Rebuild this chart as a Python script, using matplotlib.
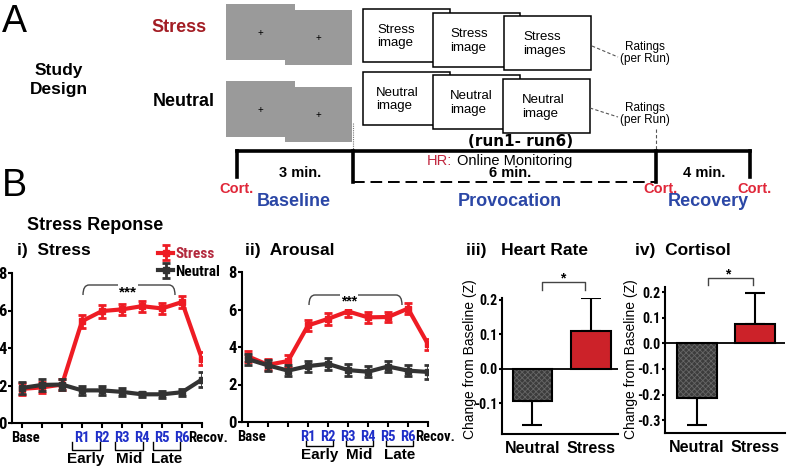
import matplotlib

matplotlib.use("Agg")

import matplotlib.pyplot as plt
import matplotlib.transforms as mtransforms
from matplotlib import font_manager
from matplotlib.lines import Line2D
from matplotlib.patches import PathPatch, Rectangle
from matplotlib.path import Path

W, H = 796, 468

# ---- data ---------------------------------------------------------------
RUN_LABELS = ["Base", "", "", "R1", "R2", "R3", "R4", "R5", "R6", "Recov."]

stress_stress = [1.82, 1.9, 2.05, 5.43, 5.97, 6.06, 6.23, 6.11, 6.45, 3.42]
stress_stress_err = [0.3, 0.3, 0.3, 0.35, 0.35, 0.3, 0.3, 0.3, 0.3, 0.35]
stress_neutral = [1.87, 2.03, 2.05, 1.74, 1.74, 1.66, 1.53, 1.53, 1.64, 2.32]
stress_neutral_err = [0.3, 0.3, 0.3, 0.25, 0.25, 0.2, 0.15, 0.2, 0.2, 0.42]

arousal_stress = [3.5, 3.05, 3.25, 5.15, 5.5, 5.9, 5.58, 5.6, 6.05, 4.15]
arousal_stress_err = [0.3, 0.3, 0.3, 0.3, 0.3, 0.3, 0.3, 0.25, 0.3, 0.3]
arousal_neutral = [3.35, 3.02, 2.74, 2.98, 3.1, 2.77, 2.68, 2.96, 2.74, 2.67]
arousal_neutral_err = [0.3, 0.3, 0.3, 0.3, 0.3, 0.3, 0.3, 0.3, 0.3, 0.35]

BAR_CONDS = ["Neutral", "Stress"]
hr_mean = [-0.095, 0.11]
hr_err = [0.07, 0.095]
cort_mean = [-0.215, 0.074]
cort_err = [0.105, 0.122]

RED = "#ee1c24"
DARK = "#333333"
BAR_RED = "#cc2229"
BLUE = "#2b47a6"
RUN_BLUE = "#1f2fc8"
CORT_RED = "#e0283a"

# a narrow sans for the tick labels, if one is around
_names = {f.name for f in font_manager.fontManager.ttflist}
NARROW = [n for n in ("Liberation Sans Narrow", "Roboto Condensed", "DejaVu Sans Condensed",
                      "Open Sans Condensed") if n in _names] + ["Liberation Sans"]
TICK_FS = 9 if NARROW[0] == "Liberation Sans" else 10.5

plt.rcParams.update(
    {
        "font.family": ["Liberation Sans", "DejaVu Sans"],
        "axes.linewidth": 1.5,
        "xtick.major.width": 1.5,
        "ytick.major.width": 1.5,
        "xtick.major.size": 3.5,
        "ytick.major.size": 3,
        "hatch.linewidth": 0.6,
    }
)

fig = plt.figure(figsize=(W / 100, H / 100), dpi=100)
# pixel coords, origin top-left
PX = mtransforms.Affine2D().scale(1 / W, -1 / H).translate(0, 1) + fig.transFigure


def px_axes(left, top, right, bottom):
    return fig.add_axes([left / W, 1 - bottom / H, (right - left) / W, (bottom - top) / H])


def txt(x, y, s, **kw):
    kw.setdefault("ha", "center")
    kw.setdefault("va", "center")
    return fig.text(x, y, s, transform=PX, **kw)


def line(xs, ys, **kw):
    fig.add_artist(Line2D(xs, ys, transform=PX, **kw))


def rect(x0, y0, x1, y1, **kw):
    fig.add_artist(Rectangle((x0, y0), x1 - x0, y1 - y0, transform=PX, **kw))


def round_bracket(x0, x1, y, d, r=6):
    verts = [(x0, y + d), (x0, y), (x0 + r, y), (x1 - r, y), (x1, y), (x1, y + d)]
    codes = [Path.MOVETO, Path.CURVE3, Path.CURVE3, Path.LINETO, Path.CURVE3, Path.CURVE3]
    fig.add_artist(PathPatch(Path(verts, codes), transform=PX, fill=False,
                             edgecolor="#444444", lw=1.0))


def square_bracket(x0, x1, y, d):
    line([x0, x0, x1, x1], [y + d, y, y, y + d], color="#444444", lw=1.0)


def cup(x0, x1, y0, y1):
    line([x0, x0, x1, x1], [y0, y1, y1, y0], color="black", lw=1.0)


def nudge(label, dx):
    label.set_transform(label.get_transform()
                        + mtransforms.ScaledTranslation(dx / 100, 0, fig.dpi_scale_trans))


# ======================= Panel A =========================================
txt(14, 22, "A", fontsize=27)
txt(59, 80, "Study\nDesign", fontsize=12.5, fontweight="bold", linespacing=1.3)
txt(179, 28, "Stress", fontsize=13, fontweight="bold", color="#a31d24")
txt(184, 102, "Neutral", fontsize=13, fontweight="bold")

GRAY = "#9a9a9a"
for dy in (0, 77):
    rect(226, 4 + dy, 295, 60 + dy, facecolor=GRAY, edgecolor="none")
    rect(285, 10 + dy, 352, 65 + dy, facecolor=GRAY, edgecolor="none")
    txt(260, 33 + dy, "+", fontsize=7)
    txt(318, 38 + dy, "+", fontsize=7)

boxes = [(363, 450, 9, 62, 377), (433, 520, 13, 67, 450), (504, 591, 16, 70, 523)]
for i, (x0, x1, y0, y1, tx) in enumerate(boxes):
    rect(x0, y0, x1, y1, facecolor="white", edgecolor="black", lw=1.1)
    txt(tx, (y0 + y1) / 2 + 1, "Stress\nimage" + ("s" if i == 2 else ""),
        fontsize=9.5, ha="left", linespacing=1.2)
nboxes = [(363, 450, 72, 125, 376), (433, 520, 75, 129, 450), (503, 590, 79, 133, 522)]
for x0, x1, y0, y1, tx in nboxes:
    rect(x0, y0, x1, y1, facecolor="white", edgecolor="black", lw=1.1)
    txt(tx, (y0 + y1) / 2 + 1, "Neutral\nimage", fontsize=9.5, ha="left", linespacing=1.2)

line([592, 618], [46, 57], color="#555555", lw=0.8, ls=(0, (3, 2)))
line([590, 618], [108, 117], color="#555555", lw=0.8, ls=(0, (3, 2)))
txt(645, 53, "Ratings\n(per Run)", fontsize=8.5, linespacing=0.95)
txt(645, 114, "Ratings\n(per Run)", fontsize=8.5, linespacing=0.95)

line([353, 353], [123, 150], color="#777777", lw=0.8, ls=(0, (1, 1)))
line([656, 656], [129, 150], color="#555555", lw=0.8, ls=(0, (3, 2)))
txt(521, 141, "(run1- run6)", fontsize=11, fontweight="bold", family="DejaVu Sans")

# timeline
TL = dict(color="black", lw=2.6, solid_capstyle="projecting")
line([237, 750], [151, 151], **TL)
line([237, 237], [151, 177], **TL)
line([353, 353], [151, 182], **TL)
line([656, 656], [151, 182], **TL)
line([750, 750], [151, 177], **TL)
line([353, 656], [182, 182], color="black", lw=1.4, ls=(0, (6, 3)))

txt(300, 173, "3 min.", fontsize=10.5, fontweight="bold")
txt(510, 173, "6 min.", fontsize=10.5, fontweight="bold")
txt(704, 173, "4 min.", fontsize=10.5, fontweight="bold")
txt(427, 161, "HR:", fontsize=10.5, ha="left", color="#c1273f")
txt(457, 161, "Online Monitoring", fontsize=10.5, ha="left")
for cx in (236, 660, 754):
    txt(cx, 189, "Cort.", fontsize=10.5, fontweight="bold", color=CORT_RED)
txt(294, 202, "Baseline", fontsize=13, fontweight="bold", color=BLUE)
txt(510, 202, "Provocation", fontsize=13, fontweight="bold", color=BLUE)
txt(708, 202, "Recovery", fontsize=13, fontweight="bold", color=BLUE)

# ======================= Panel B =========================================
txt(14, 186, "B", fontsize=27)
txt(95, 225, "Stress Reponse", fontsize=13, fontweight="bold")


def run_panel(ax, s, s_err, n, n_err, left, recov_dx):
    x = list(range(len(s)))
    hs = ax.errorbar(x, s, yerr=s_err, color=RED, lw=3, marker="s", ms=4.5,
                     elinewidth=2, capsize=3, capthick=2, zorder=3, label="Stress")
    hn = ax.errorbar(x, n, yerr=n_err, color=DARK, lw=3, marker="s", ms=4.5,
                     elinewidth=2, capsize=3, capthick=2, zorder=4, label="Neutral")
    ax.set_ylim(0, 8)
    ax.set_yticks([0, 2, 4, 6, 8])
    ax.set_xlim(left, 9)
    ax.set_xticks(x)
    ax.tick_params(axis="x", pad=2)
    ax.tick_params(axis="y", pad=1)
    ax.set_xticklabels(RUN_LABELS, family=NARROW, fontweight="bold", fontsize=TICK_FS)
    for lab in ax.get_xticklabels():
        if lab.get_text().startswith("R") and lab.get_text() != "Recov.":
            lab.set_color(RUN_BLUE)
    labs = ax.get_xticklabels()
    nudge(labs[0], 3)
    nudge(labs[-1], recov_dx)
    for lab in ax.get_yticklabels():
        lab.set_family(NARROW)
        lab.set_fontweight("bold")
        lab.set_fontsize(TICK_FS + 1.5)
    ax.spines["top"].set_visible(False)
    ax.spines["right"].set_visible(False)
    ax.patch.set_alpha(0)
    return hs, hn


ax1 = px_axes(12, 273, 202, 423)
hs, hn = run_panel(ax1, stress_stress, stress_stress_err, stress_neutral,
                   stress_neutral_err, -0.5, 6)
ax2 = px_axes(242, 272, 428, 422)
run_panel(ax2, arousal_stress, arousal_stress_err, arousal_neutral,
          arousal_neutral_err, -0.3, 7)

leg = fig.legend([hs, hn], ["Stress", "Neutral"], loc="upper left",
                 bbox_to_anchor=(158, 247), bbox_transform=PX, frameon=False,
                 handlelength=1.0, handletextpad=0.15, labelspacing=0.25,
                 borderpad=0, borderaxespad=0,
                 prop={"family": NARROW, "weight": "bold", "size": TICK_FS + 0.5})
leg.get_texts()[0].set_color("#b3283c")

txt(17, 250, "i)  Stress", fontsize=12.5, fontweight="bold", ha="left")
txt(245, 251, "ii)  Arousal", fontsize=12.5, fontweight="bold", ha="left")
txt(466, 251, "iii)   Heart Rate", fontsize=12.5, fontweight="bold", ha="left")
txt(635, 250, "iv)  Cortisol", fontsize=12.5, fontweight="bold", ha="left")

# significance brackets on the line panels
round_bracket(83, 175, 285, 10)
txt(128, 292, "***", fontsize=11, fontweight="bold",
    bbox=dict(facecolor="white", edgecolor="none", pad=1))
round_bracket(309, 402, 295, 10)
txt(349, 301, "***", fontsize=10, fontweight="bold",
    bbox=dict(facecolor="white", edgecolor="none", pad=1))

# Early / Mid / Late groupings
for x0, x1, lab in [(72, 100, "Early"), (115, 143, "Mid"), (153, 180, "Late")]:
    cup(x0, x1, 442, 450)
    txt((x0 + x1) / 2, 459, lab, fontsize=11, fontweight="bold")
for x0, x1, lab in [(306, 333, "Early"), (346, 373, "Mid"), (386, 413, "Late")]:
    cup(x0, x1, 441, 446)
    txt((x0 + x1) / 2, 455, lab, fontsize=11, fontweight="bold")


def bar_panel(ax, means, errs, ylim, yticks, width):
    x = [0, 1]
    colors = ["#3c3c3c", BAR_RED]
    hatches = ["xxxxxx", None]
    for xi, m, e, c, h in zip(x, means, errs, colors, hatches):
        yerr = [[e], [0]] if m < 0 else [[0], [e]]
        ax.errorbar([xi], [m], yerr=yerr, color="black", elinewidth=1.5,
                    capsize=7, capthick=1.5, fmt="none", zorder=2)
        ax.bar([xi], [m], width=width, color=c, hatch=h, edgecolor="#666666" if h else c,
               lw=0, zorder=3)
        ax.bar([xi], [m], width=width, fill=False, edgecolor="black", lw=1.5, zorder=4)
    ax.axhline(0, color="black", lw=1.3, zorder=5)
    ax.set_ylim(*ylim)
    ax.set_yticks(yticks)
    ax.set_yticklabels([f"{v:.1f}" for v in yticks], family=NARROW,
                       fontweight="bold", fontsize=TICK_FS - 0.5)
    ax.set_xticks(x)
    ax.set_xticklabels(BAR_CONDS, fontweight="bold", fontsize=11.5)
    ax.tick_params(axis="x", length=0, pad=5)
    ax.tick_params(axis="y", length=2.3, pad=0.7)
    ax.spines["top"].set_visible(False)
    ax.spines["right"].set_visible(False)
    ax.patch.set_alpha(0)


ax3 = px_axes(502, 298, 618, 434)
bar_panel(ax3, hr_mean, hr_err, (-0.19, 0.205), [-0.1, 0.0, 0.1, 0.2], 0.68)
ax3.set_xlim(-0.52, 1.46)
ax4 = px_axes(665, 287, 785, 433)
bar_panel(ax4, cort_mean, cort_err, (-0.35, 0.22), [-0.3, -0.2, -0.1, 0.0, 0.1, 0.2], 0.69)
ax4.set_xlim(-0.55, 1.52)

for ax, lx in ((ax3, 477), (ax4, 638)):
    ax.set_ylabel("Change from Baseline (Z)", fontsize=10)
    ax.yaxis.set_label_coords(lx, 359, transform=PX)

square_bracket(542, 585, 282, 8)
txt(563, 278, "*", fontsize=10, fontweight="bold")
square_bracket(708, 753, 278, 7)
txt(728, 274, "*", fontsize=10, fontweight="bold")

fig.savefig("out.png", dpi=100)
